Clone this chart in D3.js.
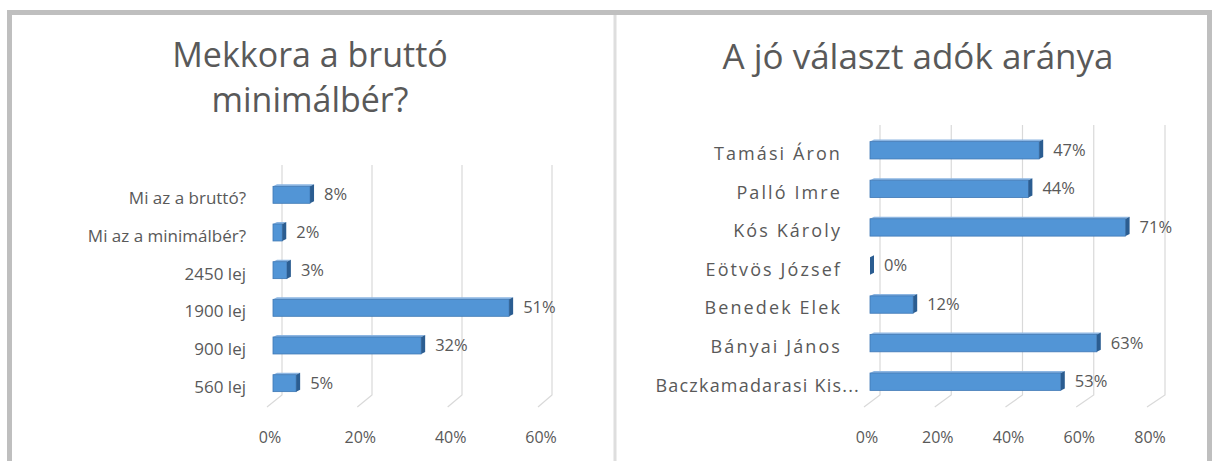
<!DOCTYPE html>
<html>
<head>
<meta charset="utf-8">
<script src="https://cdn.jsdelivr.net/npm/d3@7"></script>
<style>
  html, body { margin: 0; padding: 0; background: #fff; }
  svg text { font-family: "Open Sans", "Noto Sans", sans-serif; fill: #595959; }
</style>
</head>
<body>
<svg id="chart" width="1214" height="461"></svg>
<script>
// ---- data ----
const leftTitle = ["Mekkora a bruttó", "minimálbér?"];
const leftCategories = ["Mi az a bruttó?", "Mi az a minimálbér?", "2450 lej", "1900 lej", "900 lej", "560 lej"];
const leftValues = [0.08, 0.02, 0.03, 0.51, 0.32, 0.05];
const leftTicks = [0, 0.2, 0.4, 0.6];

const rightTitle = ["A jó választ adók aránya"];
const rightCategories = ["Tamási Áron", "Palló Imre", "Kós Károly", "Eötvös József", "Benedek Elek", "Bányai János", "Baczkamadarasi Kis..."];
const rightValues = [0.47, 0.44, 0.71, 0.00, 0.12, 0.63, 0.53];
const rightTicks = [0, 0.2, 0.4, 0.6, 0.8];

const svg = d3.select("#chart");
const pct = d3.format(".0%");

// frame
svg.append("rect").attr("x", 9.5).attr("y", 12.5).attr("width", 1200).attr("height", 470)
  .attr("fill", "none").attr("stroke", "#bfbfbf").attr("stroke-width", 5);
svg.append("line").attr("x1", 615).attr("x2", 615).attr("y1", 15).attr("y2", 461)
  .attr("stroke", "#dedede").attr("stroke-width", 3);

function drawChart(cfg) {
  const g = svg.append("g");
  // title
  g.selectAll("text.title").data(cfg.title).join("text")
    .attr("class", "title")
    .attr("x", cfg.titleX)
    .attr("y", (d, i) => cfg.titleY + i * 45)
    .attr("text-anchor", "middle")
    .attr("dominant-baseline", "middle")
    .style("font-size", cfg.titleSize + "px")
    .style("font-weight", 400)
    .text(d => d);

  const xBar = d3.scaleLinear().domain([0, cfg.max]).range(cfg.barRange);
  const xBack = d3.scaleLinear().domain([0, cfg.max]).range(cfg.backRange);
  const xFloor = d3.scaleLinear().domain([0, cfg.max]).range(cfg.floorRange);
  const y = d3.scaleBand().domain(cfg.categories).range(cfg.yRange)
    .paddingInner(0.55).paddingOuter(0.275);

  // gridlines (back wall + floor)
  g.selectAll("path.grid").data(cfg.ticks).join("path")
    .attr("class", "grid")
    .attr("d", t => `M${xBack(t)},${cfg.gridTop}L${xBack(t)},${cfg.wallBottom}L${xFloor(t)},${cfg.floorBottom}`)
    .attr("fill", "none").attr("stroke", "#d9d9d9").attr("stroke-width", 1.2);

  // tick labels
  g.selectAll("text.tick").data(cfg.ticks).join("text")
    .attr("class", "tick")
    .attr("x", t => xFloor(t) + 3)
    .attr("y", 439)
    .attr("text-anchor", "middle")
    .attr("dominant-baseline", "middle")
    .style("font-size", "16px")
    .text(t => pct(t));

  const dx = 4, dy = 2;
  const rows = cfg.categories.map((c, i) => ({c, v: cfg.values[i]}));
  const bars = g.selectAll("g.bar").data(rows).join("g").attr("class", "bar");
  const bh = y.bandwidth();
  // top face
  bars.append("path")
    .attr("d", d => {
      const x0 = xBar(0), x1 = xBar(d.v), yt = y(d.c);
      return `M${x0},${yt}L${x0 + dx},${yt - dy}L${x1 + dx},${yt - dy}L${x1},${yt}Z`;
    })
    .attr("fill", "#8db6e2");
  // front face
  bars.append("rect")
    .attr("x", xBar(0))
    .attr("y", d => y(d.c))
    .attr("width", d => xBar(d.v) - xBar(0))
    .attr("height", bh)
    .attr("fill", "#5295d6")
    .attr("stroke", "#3f78b5")
    .attr("stroke-width", 0.8);
  // side face
  bars.append("path")
    .attr("d", d => {
      const x1 = xBar(d.v), yt = y(d.c);
      return `M${x1},${yt}L${x1 + dx},${yt - dy}L${x1 + dx},${yt + bh - dy}L${x1},${yt + bh}Z`;
    })
    .attr("fill", "#2b5d91");

  // data labels
  g.selectAll("text.val").data(rows).join("text")
    .attr("class", "val")
    .attr("x", d => xBar(d.v) + dx + 10)
    .attr("y", d => y(d.c) + bh / 2 + 1)
    .attr("dominant-baseline", "middle")
    .style("font-size", "16.5px")
    .text(d => pct(d.v));

  // category labels
  g.selectAll("text.cat").data(cfg.categories).join("text")
    .attr("class", "cat")
    .attr("x", d => d.endsWith("...") ? cfg.catX + 18 : cfg.catX)
    .attr("y", d => y(d) + bh / 2 + 5)
    .attr("text-anchor", "end")
    .attr("dominant-baseline", "middle")
    .style("font-size", cfg.catSize + "px")
    .style("letter-spacing", d => (d.endsWith("...") ? cfg.longSpacing : cfg.catSpacing) + "px")
    .text(d => d);
}

drawChart({
  title: leftTitle, titleX: 310, titleY: 58, titleSize: 34,
  categories: leftCategories, values: leftValues, ticks: leftTicks, max: 0.6,
  barRange: [273, 273 + 0.6 * 463], backRange: [282, 552], floorRange: [267, 538],
  yRange: [176, 402], gridTop: 165, wallBottom: 395, floorBottom: 407, catX: 246,
  catSize: 17, catSpacing: 0, longSpacing: 0
});

drawChart({
  title: rightTitle, titleX: 918, titleY: 60, titleSize: 35,
  categories: rightCategories, values: rightValues, ticks: rightTicks, max: 0.8,
  barRange: [870, 870 + 0.8 * 360], backRange: [880, 1165], floorRange: [864, 1147],
  yRange: [131, 401], gridTop: 125, wallBottom: 395, floorBottom: 407, catX: 842,
  catSize: 18, catSpacing: 2.1, longSpacing: 1.2
});
</script>
</body>
</html>
